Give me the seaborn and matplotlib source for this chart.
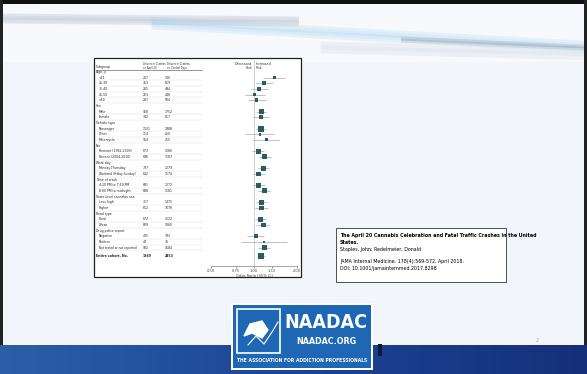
import numpy as np
import pandas as pd
import matplotlib.pyplot as plt
import seaborn as sns
from matplotlib.patches import Rectangle, Polygon

# ---- data ----
groups = ["Age, y", "Sex", "Vehicle type", "Era", "Work day", "Time of crash",
          "State-level cannabis use", "Road type", "Drug police report"]
group_items = [
    ["<21", "21-30", "31-40", "41-50", ">50"],
    ["Male", "Female"],
    ["Passenger", "Other", "Motorcycle"],
    ["Remote (1992-2003)", "Recent (2004-2016)"],
    ["Monday-Thursday", "Weekend (Friday-Sunday)"],
    ["4:20 PM to 7:59 PM", "8:00 PM to midnight"],
    ["Less high", "Higher"],
    ["Rural", "Urban"],
    ["Negative", "Positive", "Not tested or not reported"],
]
april_counts = [207, 353, 265, 223, 287, 958, 342, 1101, 114, 154, 673, 696,
                737, 632, 681, 688, 757, 612, 672, 609, 405, 44, 922]
control_counts = [300, 619, 494, 446, 504, 1752, 617, 1988, 210, 255, 1266, 1187,
                  1279, 1174, 1272, 1181, 1375, 1078, 1222, 1060, 793, 76, 1584]
odds_ratios = [1.40, 1.17, 1.08, 1.01, 1.04, 1.13, 1.12, 1.12, 1.10, 1.22, 1.07, 1.19,
               1.16, 1.08, 1.08, 1.18, 1.13, 1.13, 1.11, 1.16, 1.03, 1.17, 1.18]
ci_low = [1.16, 1.03, 0.95, 0.86, 0.91, 1.04, 0.98, 1.04, 0.87, 0.99, 0.97, 1.08,
          1.06, 0.98, 0.98, 1.07, 1.03, 1.02, 1.01, 1.04, 0.90, 0.81, 1.07]
ci_high = [1.65, 1.35, 1.25, 1.19, 1.21, 1.22, 1.27, 1.21, 1.38, 1.50, 1.17, 1.31,
           1.27, 1.20, 1.19, 1.30, 1.24, 1.25, 1.22, 1.28, 1.17, 1.69, 1.29]
total_label = "Entire cohort, No."
total_april, total_control = 1369, 2453
total_or, total_lo, total_hi = 1.12, 1.05, 1.19
x_ticks = [0.50, 0.75, 1.00, 1.33, 2.00]
x_tick_labels = ["0.50", "0.75", "1.00", "1.33", "2.00"]

# ---- build rows ----
rows = []
r = 0
k = 0
for g, items in zip(groups, group_items):
    rows.append(dict(label=g, row=r, header=True))
    r += 1
    for it in items:
        rows.append(dict(label=it, row=r, header=False, april=april_counts[k],
                         control=control_counts[k], or_=odds_ratios[k],
                         lo=ci_low[k], hi=ci_high[k]))
        r += 1
        k += 1
rows.append(dict(label=total_label, row=r + 0.5, header=False, april=total_april,
                 control=total_control, or_=total_or, lo=total_lo, hi=total_hi,
                 total=True))
df = pd.DataFrame(rows)
pts = df[~df.header].copy()
pts["n"] = pts.april + pts.control

W, H = 587, 374
fig = plt.figure(figsize=(W / 100, H / 100), dpi=100)
fig.patch.set_facecolor("#f2f6fa")
cond = dict(family="DejaVu Sans", stretch="condensed")

# ---- slide decoration ----
bg = fig.add_axes([0, 0, 1, 1])
bg.set_xlim(0, W)
bg.set_ylim(H, 0)
bg.axis("off")
xs = np.linspace(0, W, 300)
bg.fill_between(xs, 4, 62, color="#f7f9fc", lw=0)
# soft swoosh streaks
for i, a in enumerate([0.10, 0.14, 0.18, 0.14, 0.10]):
    bg.fill_between(xs, 13 + i * 2 + 0.01 * xs, 15 + i * 2 + 0.01 * xs, where=xs < 300,
                    color="#8a96aa", alpha=a * 2, lw=0)
for i, a in enumerate([0.08, 0.14, 0.2, 0.14, 0.08]):
    bg.fill_between(xs, 8 + i * 2.5 + 0.055 * xs, 10.5 + i * 2.5 + 0.055 * xs,
                    where=xs > 150, color="#8cc8e8", alpha=a * 2, lw=0)
for i, a in enumerate([0.1, 0.2, 0.1]):
    bg.fill_between(xs, 18 + i * 2 + 0.045 * xs, 20 + i * 2 + 0.045 * xs,
                    where=xs > 400, color="#7b879c", alpha=a * 2, lw=0)
for i, a in enumerate([0.15, 0.25, 0.15]):
    bg.fill_between(xs, 33 + i * 4 + 0.025 * xs, 37 + i * 4 + 0.025 * xs,
                    where=xs > 320, color="#d5dde7", alpha=a * 2, lw=0)
# frame
bg.add_patch(Rectangle((0, 0), W, 4, color="#111111", lw=0))
bg.add_patch(Rectangle((0, 0), 3, H, color="#222222", lw=0))
bg.add_patch(Rectangle((W - 3, 0), 3, H, color="#222222", lw=0))
# bottom band
grad = np.linspace(0, 1, 256).reshape(1, -1)
bg.imshow(grad, extent=(0, W, H, 345), aspect="auto",
          cmap=sns.blend_palette(["#2c5fa8", "#1c4596", "#15307a"], as_cmap=True),
          zorder=1)
bg.set_xlim(0, W)
bg.set_ylim(H, 0)
bg.add_patch(Rectangle((378, 344), 4, 12, color="#0c1a3a", lw=0, zorder=2))
# logo
bg.add_patch(Rectangle((231, 303), 142, 67, color="white", lw=0, zorder=3))
bg.add_patch(Rectangle((233, 305), 138, 63, color="#1e67b4", lw=0, zorder=3))
bg.add_patch(Rectangle((237, 309), 43, 44, fill=False, ec="white", lw=1.2, zorder=4))
bg.add_patch(Polygon([(244, 336), (250, 324), (262, 321), (268, 330), (262, 338), (252, 333)],
                     color="white", zorder=4))
bg.plot([248, 256, 264, 272, 278], [345, 336, 344, 332, 322], color="white", lw=0.8, zorder=4)
bg.text(326, 322, "NAADAC", color="white", fontsize=14, fontweight="bold",
        ha="center", va="center", zorder=5, **cond)
bg.text(326, 341, "NAADAC.ORG", color="white", fontsize=6.4, fontweight="bold",
        ha="center", va="center", zorder=5, **cond)
bg.text(302, 360, "THE ASSOCIATION FOR ADDICTION PROFESSIONALS", color="white",
        fontsize=3.6, fontweight="bold", ha="center", va="center", zorder=5, **cond)
bg.text(537, 341, "2", color="#9aa4b0", fontsize=3.5, ha="center", va="center")

# figure panel
bg.add_patch(Rectangle((94, 58), 207, 219, facecolor="white", edgecolor="#222222",
                       lw=0.9, zorder=2))

# citation box
bg.add_patch(Rectangle((336, 228), 170, 54, facecolor="white", edgecolor="#333333",
                       lw=0.6, zorder=2))
cite_fs = 3.4
bg.text(340, 233, "The April 20 Cannabis Celebration and Fatal Traffic Crashes in the United\nStates.",
        fontsize=cite_fs, fontweight="bold", va="top", linespacing=1.5, zorder=3)
bg.text(340, 247, "Staples, John; Redelmeier, Donald", fontsize=cite_fs, va="top", zorder=3)
bg.text(340, 259, "JAMA Internal Medicine. 178(4):569-572, April 2018.",
        fontsize=cite_fs, va="top", zorder=3)
bg.text(340, 266, "DOI: 10.1001/jamainternmed.2017.8298", fontsize=cite_fs, va="top", zorder=3)

# ---- forest plot ----
px = lambda v: v / W
ax = fig.add_axes([px(211), 1 - 265.7 / H, px(86), (265.7 - 60) / H])
ax.set_facecolor("none")
ax.set_xscale("log")
ax.set_xlim(0.5, 2.0)
ax.set_ylim(34.2, -2.1)
ax.axvline(1.0, color="#c8c8c8", lw=0.6, zorder=0)
ax.hlines(pts.row, pts.lo, pts.hi, color="#a0a8ad", lw=0.5, zorder=1)
sns.scatterplot(data=pts, x="or_", y="row", size="n", sizes=(3, 22), marker="s",
                color="#2b5b66", linewidth=0, legend=False, ax=ax, zorder=2)
ax.set_xticks(x_ticks)
ax.set_xticklabels(x_tick_labels)
ax.minorticks_off()
ax.tick_params(axis="x", labelsize=2.6, length=1.2, width=0.4, pad=1, colors="#444444")
ax.set_yticks([])
for s in ["top", "right", "left"]:
    ax.spines[s].set_visible(False)
ax.spines["bottom"].set_linewidth(0.4)
ax.spines["bottom"].set_color("#666666")
ax.set_xlabel("Odds Ratio (95% CI)", fontsize=2.6, labelpad=1, color="#444444")
ax.set_ylabel("")
ax.text(0.97, -1.0, "Decreased\nRisk", fontsize=2.6, ha="right", va="center",
        color="#333333", linespacing=1.1, **cond)
ax.text(1.03, -1.0, "Increased\nRisk", fontsize=2.6, ha="left", va="center",
        color="#333333", linespacing=1.1, **cond)

# ---- table text ----
tr = ax.get_yaxis_transform()
fs = 2.5
x_lab = (96 - 211) / 86
x_sub = (99 - 211) / 86
x_apr = (143 - 211) / 86
x_ctl = (165 - 211) / 86
x_line_end = (202 - 211) / 86
ax.text(x_lab, -0.9, "Subgroup", transform=tr, fontsize=fs, va="center",
        color="#222222", **cond)
ax.text(x_apr, -1.0, "Drivers in Crashes\non April 20", transform=tr, fontsize=2.0,
        va="center", color="#222222", linespacing=1.1, **cond)
ax.text(x_ctl + 0.02, -1.0, "Drivers in Crashes\non Control Days", transform=tr, fontsize=2.0,
        va="center", color="#222222", linespacing=1.1, **cond)
ax.plot([x_lab, x_line_end], [-0.4, -0.4], transform=tr, color="#444444", lw=0.4,
        clip_on=False)
for _, rw in df.iterrows():
    if rw.header:
        ax.text(x_lab, rw.row, rw.label, transform=tr, fontsize=fs, va="center",
                color="#222222", **cond)
        continue
    bold = rw.get("total") is True
    wt = "bold" if bold else "normal"
    ax.text(x_lab if bold else x_sub, rw.row, rw.label, transform=tr,
            fontsize=fs - 0.15 if len(rw.label) > 22 else fs,
            va="center", color="#222222", fontweight=wt, **cond)
    ax.text(x_apr, rw.row, str(int(rw.april)), transform=tr, fontsize=fs, va="center",
            color="#222222", fontweight=wt, **cond)
    ax.text(x_ctl, rw.row, str(int(rw.control)), transform=tr, fontsize=fs, va="center",
            color="#222222", fontweight=wt, **cond)
    if not bold:
        ax.plot([x_lab, x_line_end], [rw.row + 0.5, rw.row + 0.5], transform=tr,
                color="#dddddd", lw=0.3, clip_on=False)

fig.savefig("out.png", dpi=100, facecolor=fig.get_facecolor())
